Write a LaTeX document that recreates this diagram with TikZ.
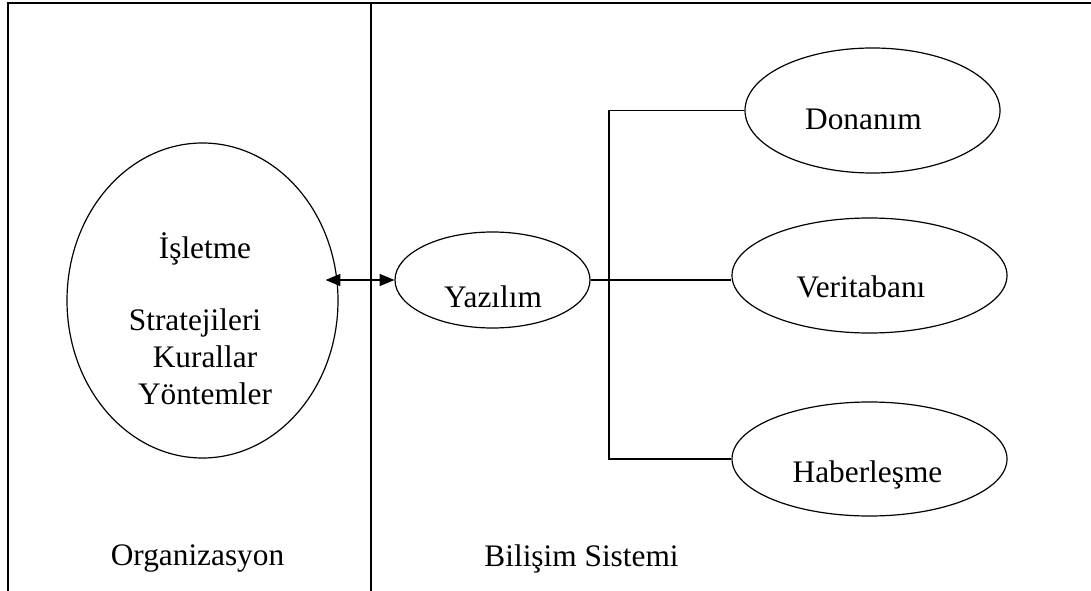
\documentclass[tikz,border=0pt]{standalone}
\usepackage{fontspec}
\setmainfont{Liberation Serif}
\usetikzlibrary{shapes.geometric,arrows.meta,positioning}

\begin{document}
\begin{tikzpicture}[x=0.75pt,y=-0.75pt,>={Triangle[length=11pt,width=9pt]}]
\tikzstyle{bub}=[ellipse, draw=black, line width=0.9pt, inner sep=0pt]
\tikzstyle{txt}=[inner sep=0pt, font=\fontsize{23.5}{27.5}\selectfont]
\tikzstyle{edge}=[line width=0.9pt]
\useasboundingbox (0,0) rectangle (1091,591);
% frame
\draw[line width=1.3pt] (8,591) -- (8,3) -- (1091,3);
\draw[line width=1.3pt] (371,3) -- (371,591);
% organizasyon
\node[bub, minimum width=203.25pt, minimum height=236.25pt] (isl) at (202.5,300.5) {};
\node[txt, align=center, anchor=north] (isltxt) at (205,232) {İşletme\\[27pt]Stratejileri\rule{15pt}{0pt}\\Kurallar\\Yöntemler};
% bilisim sistemi
\node[bub, minimum width=146.25pt, minimum height=72pt] (yaz) at (492.5,280) {};
\node[txt, anchor=base] (yaztxt) at (493,308) {Yazılım};
\node[bub, minimum width=191.25pt, minimum height=93.75pt] (don) at (872.5,110.5) {};
\node[txt, anchor=base] (dontxt) at (863.5,130) {Donanım};
\node[bub, minimum width=206.25pt, minimum height=86.25pt] (ver) at (869.5,275.5) {};
\node[txt, anchor=base] (vertxt) at (861,298) {Veritabanı};
\node[bub, minimum width=206.25pt, minimum height=85.5pt] (hab) at (869.5,459) {};
\node[txt, anchor=base] (habtxt) at (867.5,482) {Haberleşme};
% bottom titles
\node[txt, anchor=base] (org) at (197.5,565) {Organizasyon};
\node[txt, anchor=base] (bil) at (581.5,566) {Bilişim Sistemi};
% connectors
\coordinate (fork) at (609,280);
\draw[edge, <->, shorten <=-9.75pt] (isl.east |- yaz.west) -- (yaz.west);
\draw[edge] (yaz.east) -- (yaz.east -| ver.west);
\draw[edge] (don.west) -- (don.west -| fork) -- (hab.west -| fork) -- (hab.west);
\end{tikzpicture}
\end{document}
